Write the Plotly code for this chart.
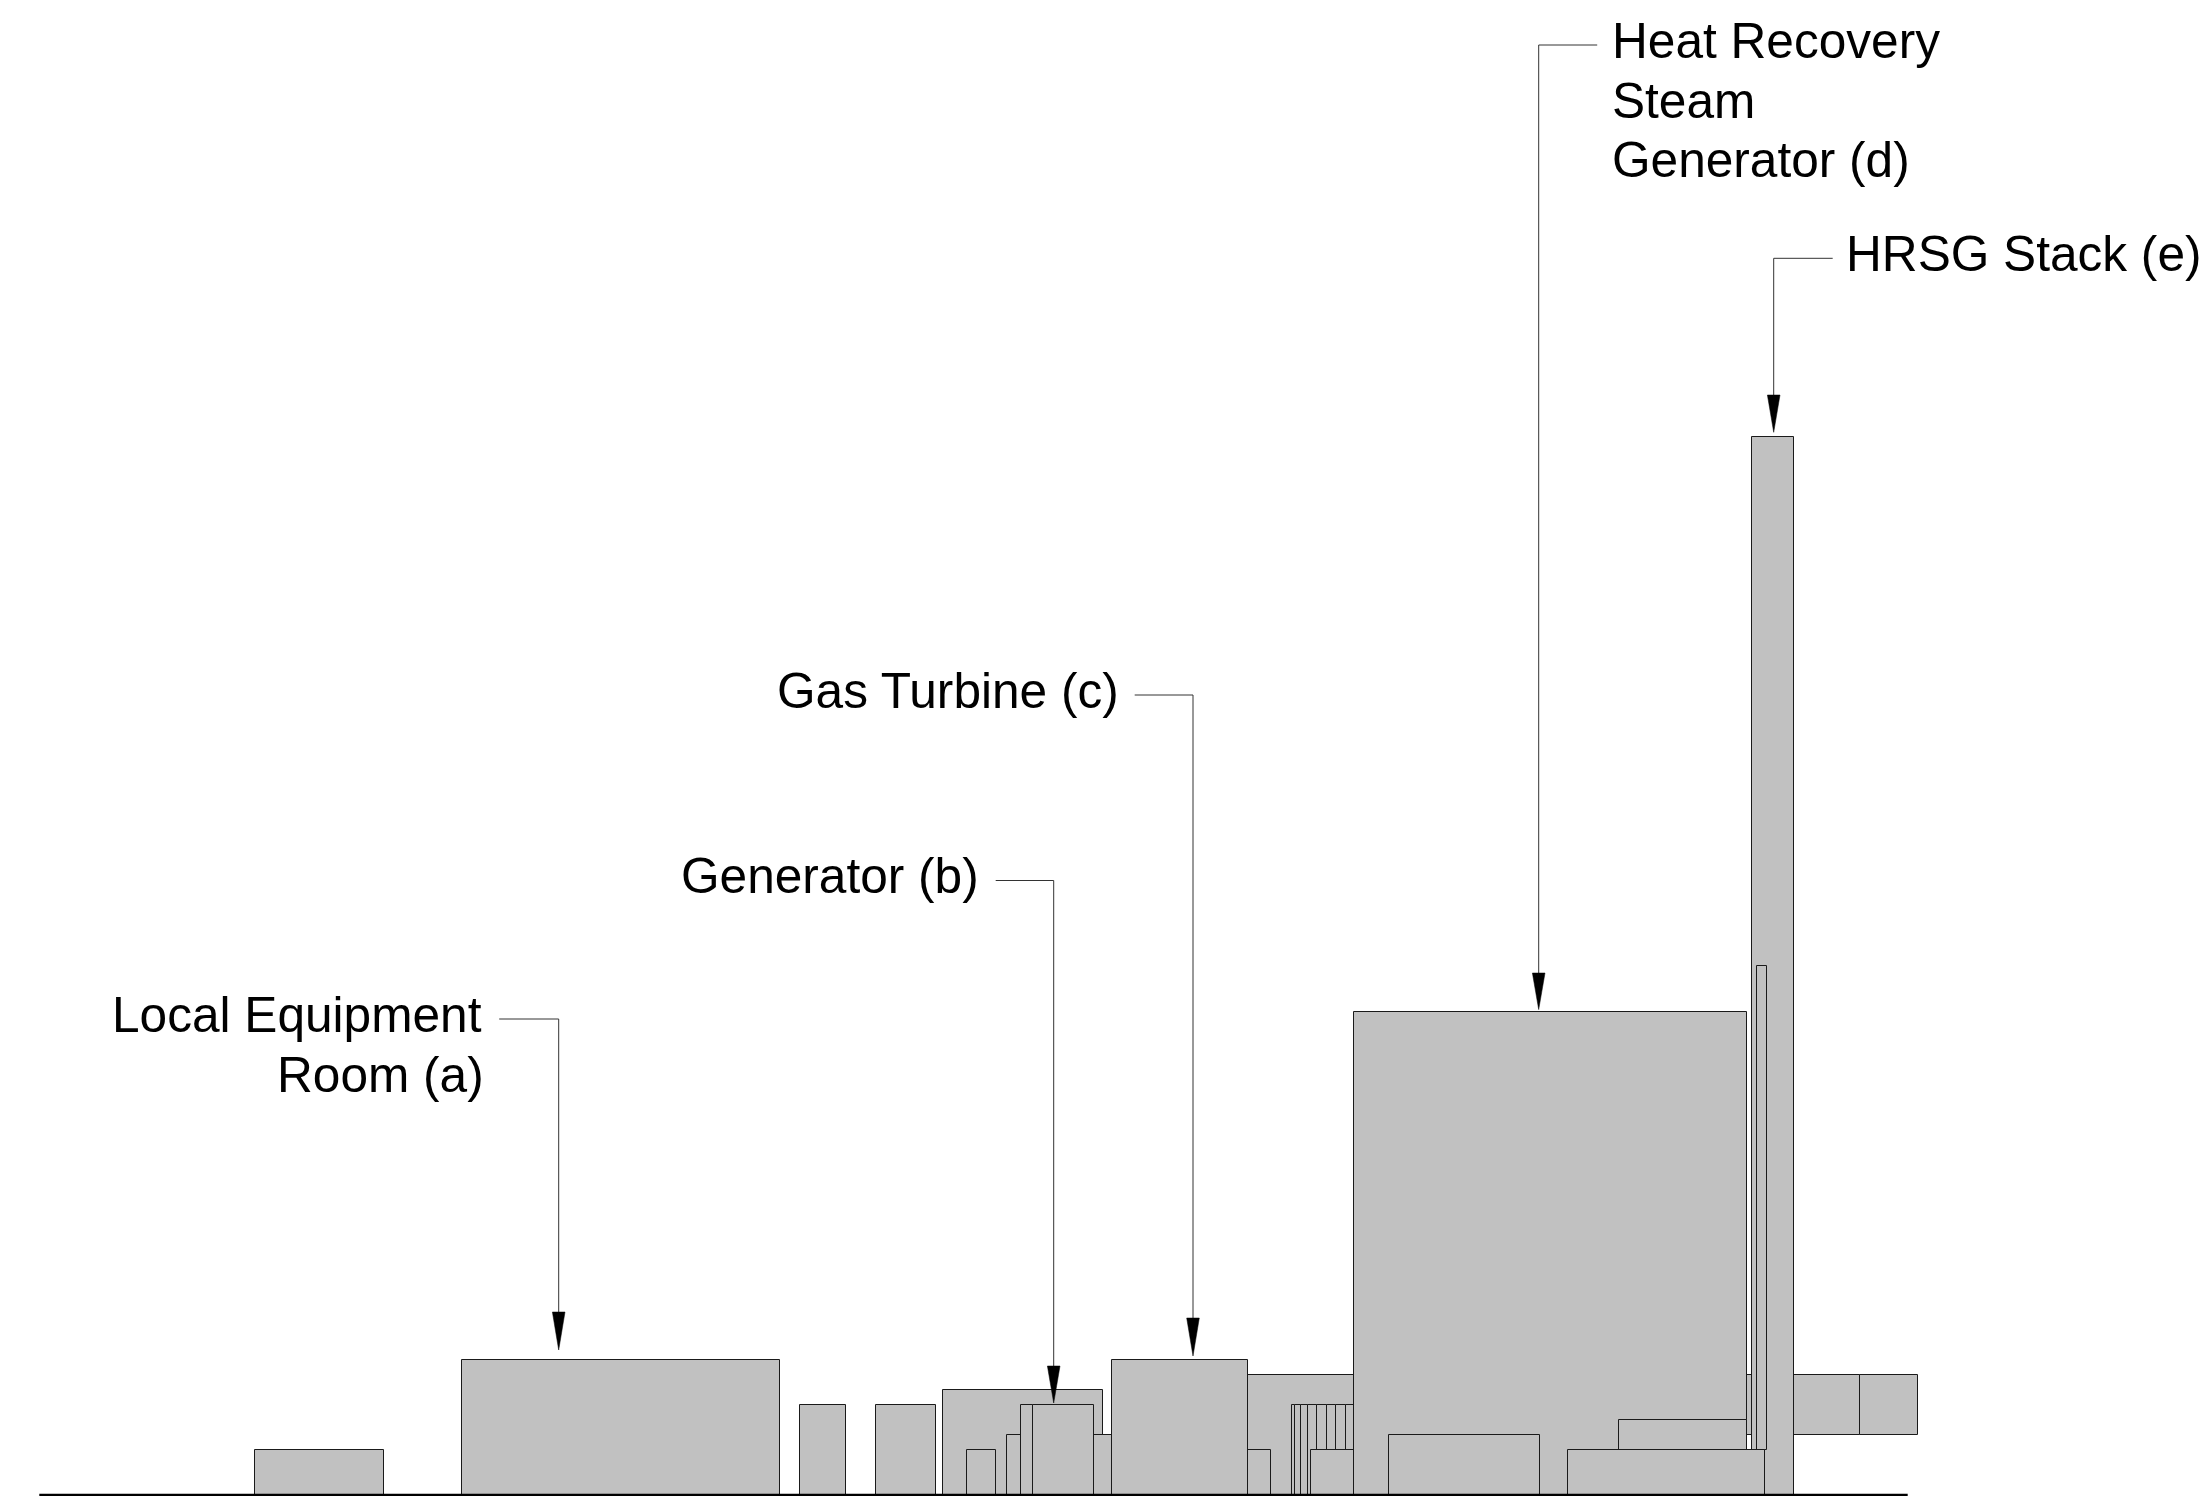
import plotly.graph_objects as go

# Building elevation blocks, in draw order (left edge, right edge, bottom level, top level)
block_left = [254.6, 461.6, 799.7, 874.8,
              942.7, 966.7, 1006.7, 1020.7, 1032.7,
              1247.3, 1500, 1859,
              1247.3,
              1291, 1294.3, 1300.3, 1307.3, 1316.3, 1326, 1335.7, 1345.3,
              1310.3, 1111.7,
              1353.3, 1388.3, 1618.3, 1751, 1756.7, 1567]
block_right = [383.7, 779.4, 845.3, 935.3,
               1102, 995.3, 1111.7, 1032.7, 1093.3,
               1500, 1859, 1917.5,
               1270.3,
               1294.3, 1300.3, 1307.3, 1316.3, 1326, 1335.7, 1345.3, 1353.3,
               1353.3, 1247.3,
               1746.7, 1539.3, 1746.7, 1793.3, 1766.3, 1764.5]
block_bottom = [0, 0, 0, 0,
                0, 0, 0, 0, 0,
                0, 60, 60,
                0,
                0, 0, 0, 0, 0, 0, 0, 0,
                0, 0,
                0, 0, 45, 0, 45, 0]
block_top = [45, 135.5, 90.5, 90.5,
             105.5, 45, 60, 90.5, 90.5,
             120.5, 120.5, 120.5,
             45,
             90.5, 90.5, 90.5, 90.5, 90.5, 90.5, 90.5, 90.5,
             45, 135.5,
             483, 60, 75, 1058, 529.5, 45]

# Ground line
ground_x = [38.6, 1907]
ground_y = [0, 0]

# Callouts: label lines, leader path and arrowhead
label_lines = ["Local Equipment", "Room (a)", "Generator (b)", "Gas Turbine (c)",
               "Heat Recovery", "Steam", "Generator (d)", "HRSG Stack (e)"]
label_x = [483.5, 485.5, 980, 1120, 1609, 1609, 1609, 1843.5]
label_level = [480, 420, 619, 804, 1454.5, 1394.5, 1335.5, 1241]
label_anchor = ["right", "right", "right", "right", "left", "left", "left", "left"]

leader_start_x = [498.5, 995, 1134, 1596.5, 1832]
leader_x = [558, 1053, 1192.3, 1538, 1773]
leader_level = [476, 614.5, 800, 1450, 1236.7]
arrow_base = [183, 129, 177, 522, 1100]
arrow_tip = [145, 92, 139, 485.4, 1062.7]
arrow_half_width = 6.3

fig = go.Figure()

fig.add_trace(go.Bar(
    x=[(l + r) / 2 for l, r in zip(block_left, block_right)],
    width=[r - l for l, r in zip(block_left, block_right)],
    base=block_bottom,
    y=[t - b for t, b in zip(block_top, block_bottom)],
    marker=dict(color="#c1c1c1", line=dict(color="#1a1a1a", width=1)),
    showlegend=False,
))

fig.add_trace(go.Scatter(x=ground_x, y=ground_y, mode="lines",
                         line=dict(color="black", width=2.6), showlegend=False))

for sx, lx, lev, ab, at in zip(leader_start_x, leader_x, leader_level, arrow_base, arrow_tip):
    fig.add_trace(go.Scatter(x=[sx, lx, lx], y=[lev, lev, ab], mode="lines",
                             line=dict(color="#333333", width=1), showlegend=False))
    fig.add_trace(go.Scatter(x=[lx - arrow_half_width, lx + arrow_half_width, lx, lx - arrow_half_width],
                             y=[ab, ab, at, ab], mode="lines", fill="toself",
                             fillcolor="black", line=dict(color="black", width=0.5),
                             showlegend=False))

for text, x, y, anchor in zip(label_lines, label_x, label_level, label_anchor):
    fig.add_annotation(x=x, y=y, text=text, showarrow=False, xanchor=anchor, yanchor="middle",
                       font=dict(family="Liberation Sans", size=49.6, color="black"))

fig.update_layout(
    width=2205, height=1496, margin=dict(l=0, r=0, t=0, b=0),
    paper_bgcolor="white", plot_bgcolor="white", barmode="overlay", bargap=0,
    xaxis=dict(range=[-0.7, 2204.3], visible=False),
    yaxis=dict(range=[-1, 1495], visible=False),
)

fig.write_html("out.html", config={"displayModeBar": False},
               post_script="document.body.style.margin='0';")
